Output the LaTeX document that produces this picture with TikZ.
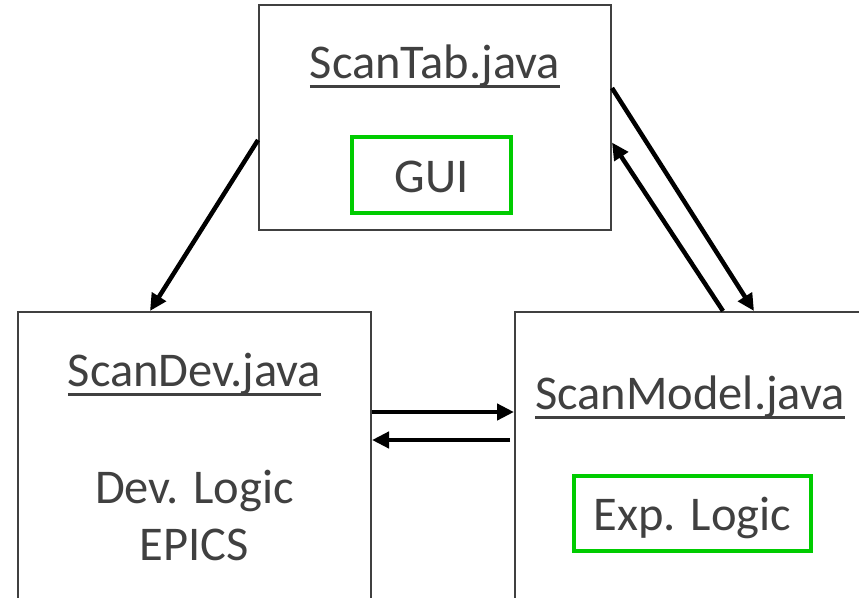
\documentclass[tikz,border=0pt]{standalone}
\usepackage{fontspec}
\setmainfont{Carlito}
\definecolor{boxgray}{HTML}{404040}
\definecolor{txtgray}{HTML}{404040}
\definecolor{tagreen}{HTML}{00CC00}
\usetikzlibrary{arrows.meta, positioning}
% underlined file name, rule cuts through the descenders
\newcommand{\ulname}[1]{\sbox0{#1}\rlap{\rule[-9.5pt]{\wd0}{3pt}}\usebox0}
\tikzset{
	filebox/.style={draw=boxgray, line width=2pt, inner sep=0pt},
	fname/.style={anchor=base, inner sep=0pt, text=txtgray,
		font=\fontsize{48.5pt}{58pt}\selectfont},
	tagbox/.style={draw=tagreen, line width=4pt, inner sep=0pt, text=txtgray,
		font=\fontsize{48.5pt}{58pt}\selectfont, text height=36pt, text depth=2pt},
	flow/.style={-{Triangle[length=17pt, width=16pt]}, line width=4.5pt, black}
}

\begin{document}
\begin{tikzpicture}[x=1pt, y=-1pt]
	\useasboundingbox (0,0) rectangle (859,597);
	\clip (0,0) rectangle (859,597);
	% the three classes
	\node[filebox, minimum width=352pt, minimum height=225pt] (tab) at (435,117.5) {};
	\node[filebox, minimum width=353pt, minimum height=330pt] (dev) at (194.5,477) {};
	\node[filebox, minimum width=370pt, minimum height=330pt] (model) at (700,477) {};
	% titles and contents
	\node[fname] (tabname) at (435,78) {\ulname{ScanTab.java}};
	\node[tagbox, minimum width=159pt, minimum height=76pt] (gui) at (431.5,175) {GUI};
	\node[fname] (devname) at (194.5,386) {\ulname{ScanDev.java}};
	\node[fname] (devlogic) at (194.5,503) {Dev. Logic};
	\node[fname] (epics) at (194.5,560) {EPICS};
	\node[fname] (modelname) at (690,409) {\ulname{ScanModel.java}};
	\node[tagbox, minimum width=237pt, minimum height=75pt] (exp) at (692.5,513.5) {Exp. Logic};
	% calls between them
	\draw[flow] ([yshift=-22.5pt]tab.west) -- ([xshift=-44.5pt]dev.north);
	\draw[flow] ([yshift=29.5pt]tab.east) -- ([xshift=240pt]model.north west);
	\draw[flow] ([xshift=209pt]model.north west) -- ([yshift=-25pt]tab.east);
	\draw[flow] ([yshift=-101pt]dev.north east) -- ([yshift=-101pt]model.north west);
	\draw[flow] ([xshift=-4pt, yshift=-129pt]model.north west) -- ([yshift=-129pt]dev.north east);
\end{tikzpicture}
\end{document}
